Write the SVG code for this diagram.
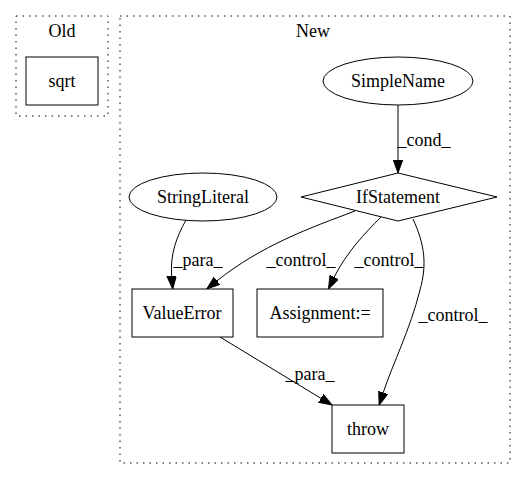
<svg xmlns="http://www.w3.org/2000/svg" width="527" height="480" viewBox="0 0 527 480" font-family="'Liberation Serif', 'Times New Roman', Times, serif">
<style>
text{font-family:'Liberation Serif','Times New Roman',Times,serif;font-size:18px;text-anchor:middle;fill:#000}
.cl{fill:none;stroke:#000;stroke-dasharray:1.5,5}
.nd{fill:#fff;stroke:#000;stroke-width:1}
.ed{fill:none;stroke:#000;stroke-width:1}
</style>
<defs>
<marker id="ah" markerUnits="userSpaceOnUse" markerWidth="15" markerHeight="11" refX="0" refY="4.7" orient="auto">
<path d="M0,0 L13,4.7 L0,9.4 Z" fill="#000" stroke="#000" stroke-width="1"/>
</marker>
</defs>
<rect width="527" height="480" fill="#fff"/>
<g id="cluster_old">
<rect class="cl" x="16" y="16" width="92" height="100"/>
<text x="62" y="37">Old</text>
</g>
<g id="cluster_new">
<rect class="cl" x="120" y="16" width="390" height="447"/>
<text x="313" y="37">New</text>
</g>
<g id="edges">
<path class="ed" d="M398,105 L398,160" marker-end="url(#ah)"/>
<path class="ed" d="M186,220 C176,238 170,255 171.7,276" marker-end="url(#ah)"/>
<path class="ed" d="M355,211 C310,228 262,245 217,280.8" marker-end="url(#ah)"/>
<path class="ed" d="M381,217 C365,233 346,253 334.2,277.2" marker-end="url(#ah)"/>
<path class="ed" d="M413,219 C425,245 427,265 420,290 C410,330 393,363 383.2,392.7" marker-end="url(#ah)"/>
<path class="ed" d="M220,337 L320.9,398.3" marker-end="url(#ah)"/>
<text x="424" y="146">_cond_</text>
<text x="198" y="266">_para_</text>
<text x="301" y="266">_control_</text>
<text x="389" y="266">_control_</text>
<text x="453" y="321">_control_</text>
<text x="310" y="380">_para_</text>
</g>
<g id="sqrt">
<rect class="nd" x="26" y="57" width="72" height="48"/>
<text x="62" y="87">sqrt</text>
</g>
<g id="SimpleName">
<ellipse class="nd" cx="398" cy="81" rx="75" ry="24"/>
<text x="398" y="87">SimpleName</text>
</g>
<g id="IfStatement">
<polygon class="nd" points="398,173 497,197 398,221 301,197"/>
<text x="398" y="203">IfStatement</text>
</g>
<g id="StringLiteral">
<ellipse class="nd" cx="203" cy="197" rx="74" ry="24"/>
<text x="203" y="203">StringLiteral</text>
</g>
<g id="ValueError">
<rect class="nd" x="132" y="289" width="101" height="48"/>
<text x="182" y="319">ValueError</text>
</g>
<g id="Assignment">
<rect class="nd" x="257" y="289" width="126" height="48"/>
<text x="320" y="319">Assignment:=</text>
</g>
<g id="throw">
<rect class="nd" x="332" y="405" width="72" height="48"/>
<text x="368" y="435">throw</text>
</g>
</svg>
